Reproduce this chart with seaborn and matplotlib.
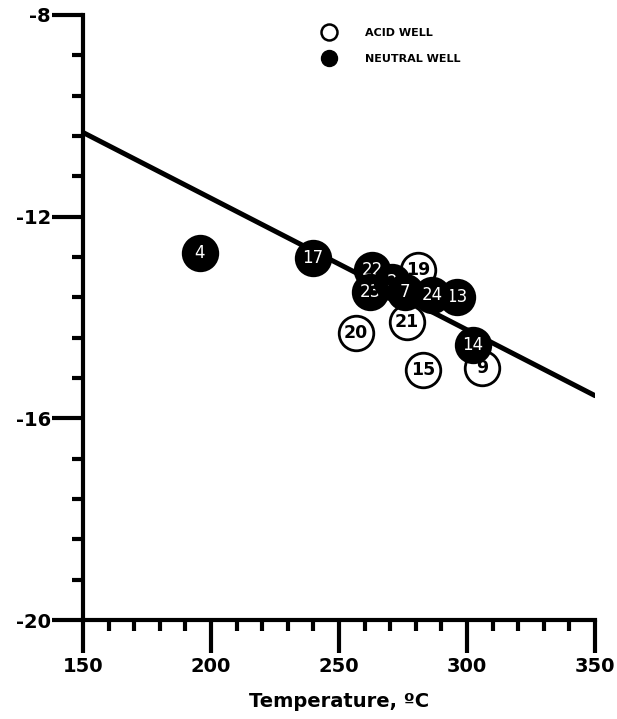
import matplotlib
matplotlib.use("Agg")
import matplotlib.pyplot as plt
import seaborn as sns
import pandas as pd
from matplotlib.lines import Line2D

# ---- data ----
well_labels = ["20", "21", "15", "9", "19",
               "4", "17", "14", "13", "24", "22", "23", "2", "7"]
well_type = ["ACID WELL"] * 5 + ["NEUTRAL WELL"] * 9
temperature = [256.6, 276.6, 282.8, 305.9, 280.9,
               195.7, 239.8, 302.3, 296.1, 286.3, 262.9, 262.1, 270.7, 275.8]
log_value = [-14.31, -14.09, -15.04, -15.00, -13.06,
             -12.72, -12.82, -14.55, -13.59, -13.55, -13.06, -13.49, -13.30, -13.49]
line_temp = [150, 350]
line_value = [-10.33, -15.55]

x_ticks = [150, 200, 250, 300, 350]
y_ticks = [-20, -16, -12, -8]

df = pd.DataFrame({"label": well_labels, "type": well_type,
                   "T": temperature, "v": log_value})

sns.set_style("white")
plt.rcParams["font.family"] = ["DejaVu Sans"]
plt.rcParams["axes.unicode_minus"] = False
plt.rcParams["text.color"] = "black"
plt.rcParams["axes.labelcolor"] = "black"
plt.rcParams["xtick.color"] = "black"
plt.rcParams["ytick.color"] = "black"

fig = plt.figure(figsize=(6.17, 7.19), dpi=100)
ax = fig.add_axes([83/617, 1-620/719, 512/617, 605/719])

sns.lineplot(x=line_temp, y=line_value, ax=ax, color="black", lw=3.6, zorder=1)

face = {"ACID WELL": "white", "NEUTRAL WELL": "black"}
for i, row in df.iterrows():
    z = 3 + i
    sns.scatterplot(x=[row["T"]], y=[row["v"]], ax=ax, s=620,
                    color=face[row["type"]], edgecolor="black", linewidth=2.0,
                    zorder=z, legend=False)
    if row["type"] == "ACID WELL":
        ax.text(row["T"], row["v"], row["label"], ha="center", va="center",
                fontsize=12.5, fontweight="bold", color="black", zorder=100)
    else:
        ax.text(row["T"], row["v"], row["label"], ha="center", va="center",
                fontsize=12, color="white", zorder=z + 0.5)

ax.set_xlim(150, 350)
ax.set_ylim(-20, -8)
ax.set_xticks(x_ticks)
ax.set_yticks(y_ticks)
ax.set_xticks(range(150, 351, 10), minor=True)
ax.set_yticks([-20 + 0.8 * k for k in range(16)], minor=True)
ax.tick_params(axis="both", which="both", bottom=True, left=True,
               top=False, right=False)
ax.tick_params(axis="both", which="major", direction="out", width=3,
               labelsize=14, color="black", labelcolor="black")
ax.tick_params(axis="x", which="major", length=24, pad=3)
ax.tick_params(axis="y", which="major", length=22, pad=1)
ax.tick_params(axis="both", which="minor", direction="out", length=8, width=3,
               color="black")
for lab in ax.get_xticklabels() + ax.get_yticklabels():
    lab.set_fontweight("bold")

for s in ["top", "right"]:
    ax.spines[s].set_visible(False)
for s in ["left", "bottom"]:
    ax.spines[s].set_linewidth(3)
    ax.spines[s].set_color("black")
ax.spines["bottom"].set_zorder(200)
ax.spines["left"].set_zorder(200)

ax.set_xlabel("Temperature, ºC", fontsize=14, fontweight="bold", labelpad=11,
              color="black")
ax.set_ylabel("")

handles = [Line2D([], [], marker="o", ls="", markersize=11.5, markerfacecolor="white",
                  markeredgecolor="black", markeredgewidth=1.8, label="ACID WELL"),
           Line2D([], [], marker="o", ls="", markersize=11.5, markerfacecolor="black",
                  markeredgecolor="black", label="NEUTRAL WELL")]
leg = ax.legend(handles=handles, loc="upper left", bbox_to_anchor=(0.44, 0.995),
                frameon=False, handletextpad=2.2, labelspacing=1.45,
                labelcolor="black", prop={"weight": "bold", "size": 8})

fig.savefig("out.png", dpi=100)
